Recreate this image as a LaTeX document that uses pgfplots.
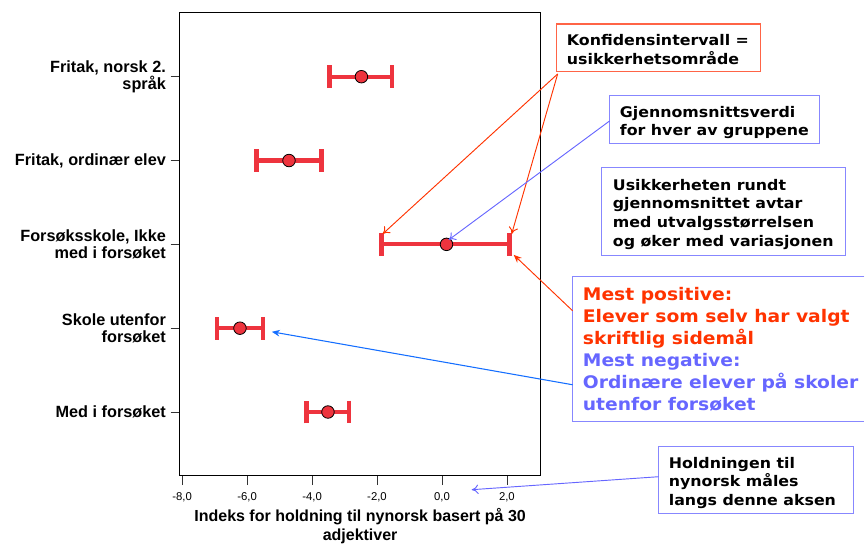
\documentclass[border=0pt]{standalone}
\usepackage{fontspec}
\setmainfont{Liberation Sans}
\newfontfamily\verd[FakeStretch=1.08]{DejaVu Sans}
\usepackage{pgfplots}
\usepackage{pgfplotstable}
\pgfplotsset{compat=1.18}
\usetikzlibrary{arrows.meta}

\definecolor{barred}{RGB}{238,52,62}
\definecolor{txtred}{RGB}{255,51,0}
\definecolor{txtblue}{RGB}{102,102,255}
\definecolor{boxred}{RGB}{255,100,70}
\definecolor{boxblue}{RGB}{135,135,255}
\definecolor{arrblue}{RGB}{20,110,255}

% group, mean, lower and upper distance of the 95% interval
\pgfplotstableread{
y mean em ep
0 -2.48 0.98 0.95
1 -4.71 1.00 1.00
2 0.14 2.00 1.94
3 -6.22 0.70 0.71
4 -3.51 0.66 0.64
}\ci

\begin{document}
\begin{tikzpicture}
\path (0,0) rectangle (648.75pt,-408pt);
\begin{axis}[
  at={(135pt,-357pt)}, anchor=south west,
  scale only axis, width=270.5pt, height=347.25pt,
  xmin=-8.07, xmax=3.03,
  ymin=-0.76, ymax=4.76, y dir=reverse,
  xtick={-8,-6,-4,-2,0,2}, ytick={0,1,2,3,4},
  yticklabels={{Fritak, norsk 2.\\språk},{Fritak, ordinær elev},{Forsøksskole, Ikke\\med i forsøket},{Skole utenfor\\forsøket},{Med i forsøket}},
  yticklabel style={font=\fontsize{12.2}{13}\selectfont\bfseries, align=right},
  xticklabel style={font=\fontsize{8.5}{10}\selectfont, yshift=-2pt},
  /pgf/number format/.cd, fixed, fixed zerofill, precision=1, use comma, assume math mode=true,
  /pgfplots/.cd,
  tick align=outside, xtick pos=bottom, ytick pos=left,
  major tick length=7pt,
  axis line style={line width=0.75pt},
  tick style={line width=0.6pt, black!80},
  xlabel={Indeks for holdning til nynorsk basert på 30\\adjektiver},
  xlabel style={font=\fontsize{12}{14}\selectfont\bfseries, align=center, yshift=1.8pt},
  clip=false,
]
\addplot[only marks, mark=*, mark size=4.7pt,
  mark options={fill=barred, draw=black, line width=0.6pt},
  error bars/.cd, x dir=both, x explicit,
  error bar style={line width=3.2pt, barred},
  error mark options={rotate=90, line width=3.2pt, mark size=8.5pt, barred}]
  table[x=mean, y=y, x error plus=ep, x error minus=em]{\ci};
\end{axis}

\begin{scope}[x=0.75pt, y=-0.75pt, font=\verd\bfseries\fontsize{11}{14}\selectfont]
% box 1
\draw[boxred, line width=0.8pt] (557,24) rectangle (761,72);
\node[anchor=north west, align=left, inner sep=0] at (567,34) {Konfidensintervall =\\usikkerhetsområde};
\draw[txtred, line width=0.7pt, -{To[length=5pt,width=7pt]}] (558,74) -- (383,234);
\draw[txtred, line width=0.7pt, -{To[length=5pt,width=7pt]}] (558,74) -- (512,234);
% box 2
\draw[boxblue, line width=0.8pt] (610,96) rectangle (820,144);
\node[anchor=north west, align=left, inner sep=0] at (620,106) {Gjennomsnittsverdi\\for hver av gruppene};
\draw[txtblue, line width=0.7pt, -{To[length=5pt,width=7pt]}] (610,121) -- (449,240);
% box 3
\draw[boxblue, line width=0.8pt] (602,168) rectangle (846,256);
\node[anchor=north west, align=left, inner sep=0] at (613,179) {Usikkerheten rundt\\gjennomsnittet avtar\\med utvalgsstørrelsen\\og øker med variasjonen};
% box 4
\draw[boxblue, line width=0.8pt] (865,277) -- (573,277) -- (573,422) -- (865,422);
\node[anchor=north west, align=left, inner sep=0, font=\verd\bfseries\fontsize{13}{16.6}\selectfont] at (583,287)
  {\textcolor{txtred}{Mest positive:}\\\textcolor{txtred}{Elever som selv har valgt}\\\textcolor{txtred}{skriftlig sidemål}\\
   \textcolor{txtblue}{Mest negative:}\\\textcolor{txtblue}{Ordinære elever på skoler}\\\textcolor{txtblue}{utenfor forsøket}};
\draw[txtred, line width=0.7pt, -{Stealth[length=6pt,width=5pt]}] (573,311) -- (514,255);
\draw[arrblue, line width=0.8pt, -{Stealth[length=6pt,width=5pt]}] (573,385) -- (272,332);
% box 5
\draw[boxblue, line width=0.8pt] (659,447) rectangle (854,514);
\node[anchor=north west, align=left, inner sep=0] at (669,457) {Holdningen til\\nynorsk måles\\langs denne aksen};
\draw[txtblue, line width=0.7pt, -{To[length=5pt,width=7pt]}] (659,477) -- (472,490);
\end{scope}
\end{tikzpicture}
\end{document}
